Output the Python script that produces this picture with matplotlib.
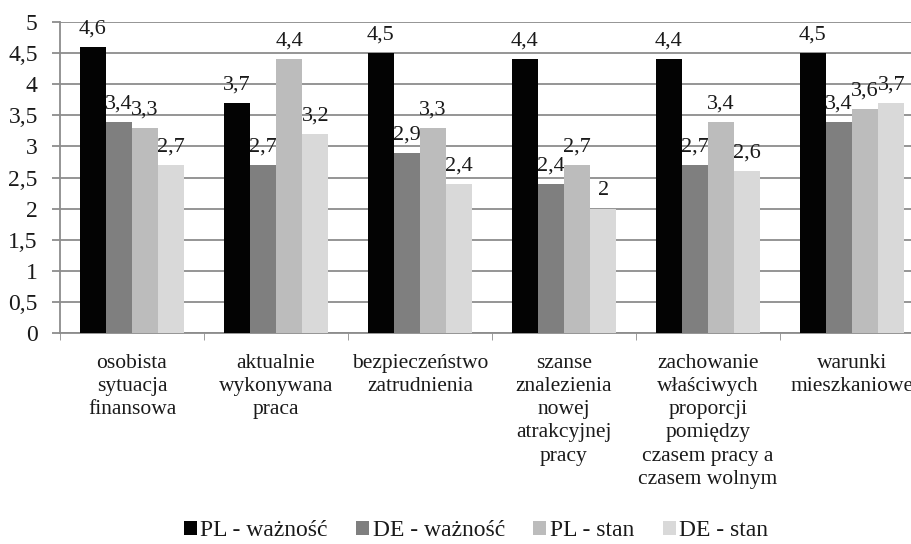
import matplotlib

matplotlib.use("Agg")
import matplotlib.pyplot as plt
import numpy as np
from matplotlib import font_manager
from matplotlib.ticker import FuncFormatter, MultipleLocator

categories = [
    "osobista\nsytuacja\nfinansowa",
    "aktualnie\nwykonywana\npraca",
    "bezpieczeństwo\nzatrudnienia",
    "szanse\nznalezienia\nnowej\natrakcyjnej\npracy",
    "zachowanie\nwłaściwych\nproporcji\npomiędzy\nczasem pracy a\nczasem wolnym",
    "warunki\nmieszkaniowe",
]
series_names = ["PL - ważność", "DE - ważność", "PL - stan", "DE - stan"]
pl_waznosc = [4.6, 3.7, 4.5, 4.4, 4.4, 4.5]
de_waznosc = [3.4, 2.7, 2.9, 2.4, 2.7, 3.4]
pl_stan = [3.3, 4.4, 3.3, 2.7, 3.4, 3.6]
de_stan = [2.7, 3.2, 2.4, 2.0, 2.6, 3.7]
colors = ["#030303", "#7f7f7f", "#bcbcbc", "#d9d9d9"]

# Times-like serif, picked by file so every text gets the same face
serif_path = font_manager.findfont(font_manager.FontProperties(family="Liberation Serif"))
font_manager.fontManager.addfont(serif_path)
serif_name = font_manager.FontProperties(fname=serif_path).get_name()
plt.rcParams["font.family"] = [serif_name, "DejaVu Serif"]
plt.rcParams["font.size"] = 16
TEXT = "#1a1a1a"
GRID = "#8c8c8c"

fig = plt.figure(figsize=(9.12, 5.44), dpi=100)
ax = fig.add_axes([60 / 912, 1 - 333 / 544, 864 / 912, 311 / 544])

x = np.arange(len(categories))
width = 0.182
fmt = lambda v: f"{v:g}".replace(".", ",")
for i, (vals, name) in enumerate(zip([pl_waznosc, de_waznosc, pl_stan, de_stan], series_names)):
    bars = ax.bar(x + (i - 1.5) * width, vals, width, color=colors[i], label=name, zorder=3)
    ax.bar_label(bars, labels=[fmt(v) for v in vals], padding=6, fontsize=16,
                 color=TEXT, family=serif_name)

ax.set_xlim(-0.5, len(categories) - 0.5)
ax.set_ylim(0, 5)
ax.yaxis.set_major_locator(MultipleLocator(0.5))
ax.yaxis.set_major_formatter(FuncFormatter(lambda v, _: fmt(round(v, 1))))
ax.grid(axis="y", color=GRID, linewidth=1.3, zorder=0)

ax.set_xticks(x)
ax.set_xticklabels(categories, linespacing=1.3)
ax.set_xticks(np.arange(-0.5, len(categories)), minor=True)
ax.tick_params(axis="x", which="major", length=0, pad=15, labelsize=15.5, labelcolor=TEXT)
ax.tick_params(axis="x", which="minor", length=5, color=GRID, direction="out")
ax.tick_params(axis="y", length=6, color=GRID, width=1.3, labelsize=17, pad=10, labelcolor=TEXT)
for lbl in ax.get_xticklabels() + ax.get_yticklabels():
    lbl.set_fontfamily(serif_name)

for side in ["top", "right"]:
    ax.spines[side].set_visible(False)
for side in ["left", "bottom"]:
    ax.spines[side].set_color(GRID)
    ax.spines[side].set_linewidth(1.3)

handles, labels = ax.get_legend_handles_labels()
leg = fig.legend(
    handles, labels,
    loc="center", bbox_to_anchor=(476 / 912, 1 - 531 / 544),
    ncol=4, frameon=False, prop={"family": serif_name, "size": 17},
    handlelength=0.55, handleheight=0.55, handletextpad=0.15, columnspacing=1.2,
)
for t in leg.get_texts():
    t.set_color(TEXT)

fig.savefig("out.png", dpi=100)
